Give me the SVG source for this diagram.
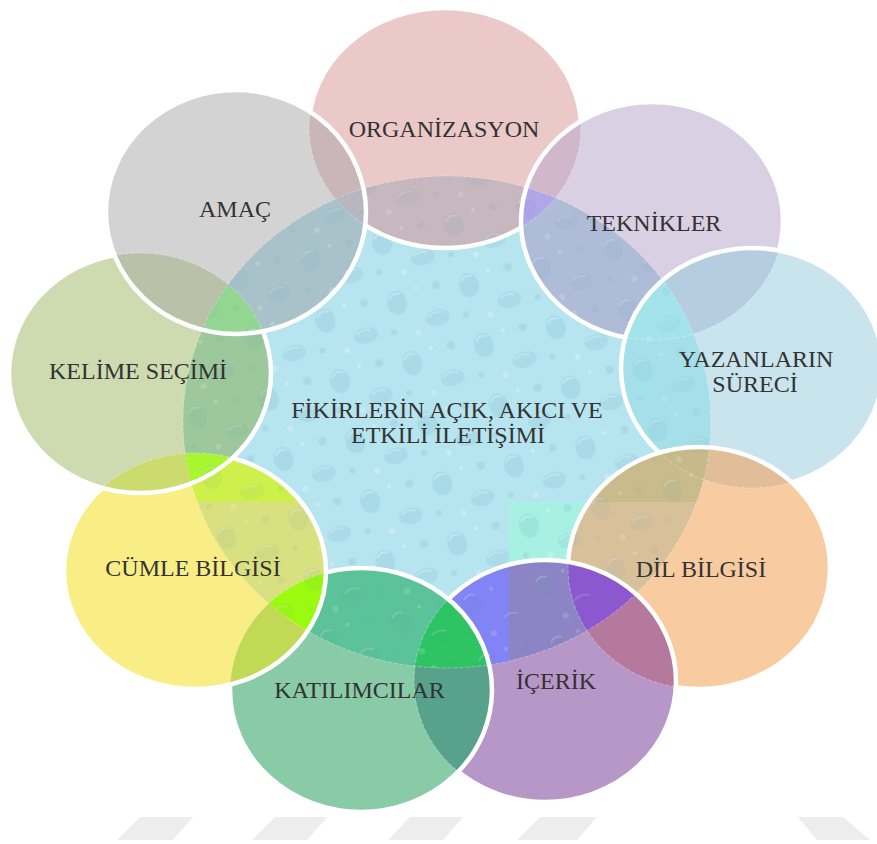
<svg xmlns="http://www.w3.org/2000/svg" width="877" height="844" viewBox="0 0 877 844">
<style>
text{font-family:"Liberation Serif","Times New Roman","DejaVu Serif",serif;font-size:24px;fill:#333;text-anchor:middle}
.edge{fill:none;stroke:#fff;stroke-width:4.5}
.faint{fill:none;stroke:#fff;stroke-opacity:.3;stroke-width:1;stroke-dasharray:4 2}
.tex{fill:url(#drops)}
.sh{fill:#ededed}
</style>
<defs>
<ellipse id="e-c" cx="447" cy="422" rx="264" ry="246"/>
<ellipse id="e-org" cx="445" cy="128" rx="136" ry="120"/>
<ellipse id="e-tek" cx="652" cy="221" rx="131" ry="119"/>
<ellipse id="e-yaz" cx="752" cy="368" rx="131" ry="120"/>
<ellipse id="e-dil" cx="699" cy="568" rx="131" ry="121"/>
<ellipse id="e-ice" cx="545" cy="681" rx="131" ry="121"/>
<ellipse id="e-kat" cx="361" cy="690" rx="131" ry="122"/>
<ellipse id="e-cum" cx="195" cy="571" rx="131" ry="118"/>
<ellipse id="e-kel" cx="140" cy="373" rx="131" ry="120"/>
<ellipse id="e-ama" cx="236" cy="212" rx="130" ry="122"/>
<clipPath id="cp-c"><use href="#e-c"/></clipPath>
<clipPath id="cp-org"><use href="#e-org"/></clipPath>
<clipPath id="cp-tek"><use href="#e-tek"/></clipPath>
<clipPath id="cp-yaz"><use href="#e-yaz"/></clipPath>
<clipPath id="cp-dil"><use href="#e-dil"/></clipPath>
<clipPath id="cp-ice"><use href="#e-ice"/></clipPath>
<clipPath id="cp-kat"><use href="#e-kat"/></clipPath>
<clipPath id="cp-cum"><use href="#e-cum"/></clipPath>
<clipPath id="cp-kel"><use href="#e-kel"/></clipPath>
<clipPath id="cp-ama"><use href="#e-ama"/></clipPath>
<pattern id="drops" patternUnits="userSpaceOnUse" width="74" height="62" patternTransform="rotate(-14)">
<ellipse cx="16" cy="18" rx="10" ry="12" fill="#4f94ab" opacity=".12"/>
<path d="M9 13 q5 -7 12 -3" stroke="#fff" stroke-opacity=".35" fill="none" stroke-width="1.6"/>
<ellipse cx="52" cy="42" rx="12" ry="8" fill="#4f94ab" opacity=".11"/>
<path d="M43 39 q7 -5 15 -1" stroke="#fff" stroke-opacity=".3" fill="none" stroke-width="1.6"/>
<circle cx="58" cy="10" r="4" fill="#4f94ab" opacity=".12"/>
<circle cx="30" cy="52" r="3" fill="#fff" opacity=".25"/>
<circle cx="6" cy="46" r="3" fill="#4f94ab" opacity=".12"/>
<circle cx="38" cy="8" r="2" fill="#fff" opacity=".3"/>
</pattern>
</defs>

<g id="reflection">
<polygon class="sh" points="140,817 193,817 173,840 117,840"/>
<polygon class="sh" points="275,817 327,817 307,840 252,840"/>
<polygon class="sh" points="410,817 463,817 443,840 388,840"/>
<polygon class="sh" points="540,817 597,817 577,840 517,840"/>
<polygon class="sh" points="798,817 843,817 870,840 817,840"/>
</g>

<g id="node-center">
<use href="#e-c" fill="#B6E4EF"/>
<rect x="509" y="502" width="220" height="180" fill="#A8F0E2" clip-path="url(#cp-c)"/>
<use href="#e-c" class="tex"/>
<text x="447" y="418">FİKİRLERİN AÇIK, AKICI VE</text>
<text x="448" y="443">ETKİLİ İLETİŞİMİ</text>
</g>

<g id="node-organizasyon">
<use href="#e-org" fill="#EBC9C8"/>
<g clip-path="url(#cp-c)"><g clip-path="url(#cp-org)">
<rect width="877" height="844" fill="#C6B8BE"/>
<rect width="877" height="844" class="tex" opacity=".6"/>
</g></g>
<use href="#e-org" class="edge"/>
<text x="444" y="137">ORGANİZASYON</text>
</g>

<g id="node-teknikler">
<use href="#e-tek" fill="#D9D0E4"/>
<g clip-path="url(#cp-tek)"><g clip-path="url(#cp-org)"><rect width="877" height="844" fill="#D0B8CA"/></g></g>
<g clip-path="url(#cp-c)"><g clip-path="url(#cp-tek)">
<rect width="877" height="844" fill="#AEBCD8"/>
<g clip-path="url(#cp-org)"><rect width="877" height="844" fill="#B0A6E8"/></g>
<rect width="877" height="844" class="tex" opacity=".6"/>
</g></g>
<use href="#e-tek" class="edge"/>
<text x="654" y="231">TEKNİKLER</text>
</g>

<g id="node-yazanlarin">
<use href="#e-yaz" fill="#C9E4ED"/>
<g clip-path="url(#cp-yaz)"><g clip-path="url(#cp-tek)"><rect width="877" height="844" fill="#B5CDDF"/></g></g>
<g clip-path="url(#cp-c)"><g clip-path="url(#cp-yaz)">
<rect width="877" height="844" fill="#A5DFE9"/>
<g clip-path="url(#cp-tek)"><rect width="877" height="844" fill="#A3E3EA"/></g>
<rect width="877" height="844" class="tex" opacity=".6"/>
</g></g>
<use href="#e-yaz" class="edge"/>
<text x="756" y="367">YAZANLARIN</text>
<text x="755" y="392">SÜRECİ</text>
</g>

<g id="node-dil-bilgisi">
<use href="#e-dil" fill="#F9CBA0"/>
<g clip-path="url(#cp-dil)"><g clip-path="url(#cp-yaz)"><rect width="877" height="844" fill="#E1BD99"/></g></g>
<g clip-path="url(#cp-c)"><g clip-path="url(#cp-dil)">
<rect width="877" height="844" fill="#D8C19A"/>
<rect width="877" height="502" fill="#C9BB8C"/>
<g clip-path="url(#cp-yaz)"><rect width="877" height="844" fill="#C7B98A"/></g>
<rect width="877" height="844" class="tex" opacity=".6"/>
</g></g>
<use href="#e-dil" class="edge"/>
<text x="701" y="577">DİL BİLGİSİ</text>
</g>

<g id="node-icerik">
<use href="#e-ice" fill="#B697C7"/>
<g clip-path="url(#cp-ice)"><g clip-path="url(#cp-dil)"><rect width="877" height="844" fill="#B5799D"/></g></g>
<g clip-path="url(#cp-c)"><g clip-path="url(#cp-ice)">
<rect width="877" height="844" fill="#8C84C4"/>
<rect width="509" height="844" fill="#8283F4"/>
<g clip-path="url(#cp-dil)"><rect width="877" height="844" fill="#8D57CF"/></g>
<rect width="877" height="844" class="tex" opacity=".6"/>
</g></g>
<use href="#e-ice" class="edge"/>
<text x="556" y="689">İÇERİK</text>
</g>

<g id="node-katilimcilar">
<use href="#e-kat" fill="#88CBA6"/>
<g clip-path="url(#cp-kat)"><g clip-path="url(#cp-ice)"><rect width="877" height="844" fill="#58A28C"/></g></g>
<g clip-path="url(#cp-c)"><g clip-path="url(#cp-kat)">
<rect width="877" height="844" fill="#5CC29A"/>
<g clip-path="url(#cp-ice)"><rect width="877" height="844" fill="#2EC463"/></g>
<rect width="877" height="844" class="tex" opacity=".6"/>
</g></g>
<use href="#e-kat" class="edge"/>
<text x="359.5" y="698">KATILIMCILAR</text>
</g>

<g id="node-cumle-bilgisi">
<use href="#e-cum" fill="#F9EE85"/>
<g clip-path="url(#cp-cum)"><g clip-path="url(#cp-kat)"><rect width="877" height="844" fill="#C2D955"/></g></g>
<g clip-path="url(#cp-c)"><g clip-path="url(#cp-cum)">
<rect width="877" height="844" fill="#D8E080"/>
<rect width="877" height="502" fill="#CDF04A"/>
<g clip-path="url(#cp-kat)"><rect width="877" height="844" fill="#9CFA0E"/></g>
<rect width="877" height="844" class="tex" opacity=".6"/>
</g></g>
<use href="#e-cum" class="edge"/>
<text x="193" y="576">CÜMLE BİLGİSİ</text>
</g>

<g id="node-kelime-secimi">
<use href="#e-kel" fill="#CEDBB0"/>
<g clip-path="url(#cp-kel)"><g clip-path="url(#cp-cum)"><rect width="877" height="844" fill="#CCDB6E"/></g></g>
<g clip-path="url(#cp-c)"><g clip-path="url(#cp-kel)">
<rect width="877" height="844" fill="#9CC89C"/>
<g clip-path="url(#cp-cum)"><rect width="877" height="844" fill="#A8F530"/></g>
<rect width="877" height="844" class="tex" opacity=".6"/>
</g></g>
<use href="#e-kel" class="edge"/>
<text x="138" y="379">KELİME SEÇİMİ</text>
</g>

<g id="node-amac">
<use href="#e-ama" fill="#D3D3D3"/>
<g clip-path="url(#cp-ama)">
<g clip-path="url(#cp-kel)"><rect width="877" height="844" fill="#B9C2A9"/></g>
<g clip-path="url(#cp-org)"><rect width="877" height="844" fill="#C9B6B8"/></g>
</g>
<g clip-path="url(#cp-c)"><g clip-path="url(#cp-ama)">
<rect width="877" height="844" fill="#A9C2CA"/>
<g clip-path="url(#cp-kel)"><rect width="877" height="844" fill="#93D691"/></g>
<g clip-path="url(#cp-org)"><rect width="877" height="844" fill="#B8B6C0"/></g>
<rect width="877" height="844" class="tex" opacity=".6"/>
</g></g>
<use href="#e-ama" class="edge"/>
<text x="235" y="217">AMAÇ</text>
</g>

<g id="connectors">
<use href="#e-c" class="faint"/>
<use href="#e-org" class="faint"/>
<use href="#e-tek" class="faint"/>
<use href="#e-yaz" class="faint"/>
<use href="#e-dil" class="faint"/>
<use href="#e-ice" class="faint"/>
<use href="#e-kat" class="faint"/>
<use href="#e-cum" class="faint"/>
<use href="#e-kel" class="faint"/>
<use href="#e-ama" class="faint"/>
</g>
</svg>
